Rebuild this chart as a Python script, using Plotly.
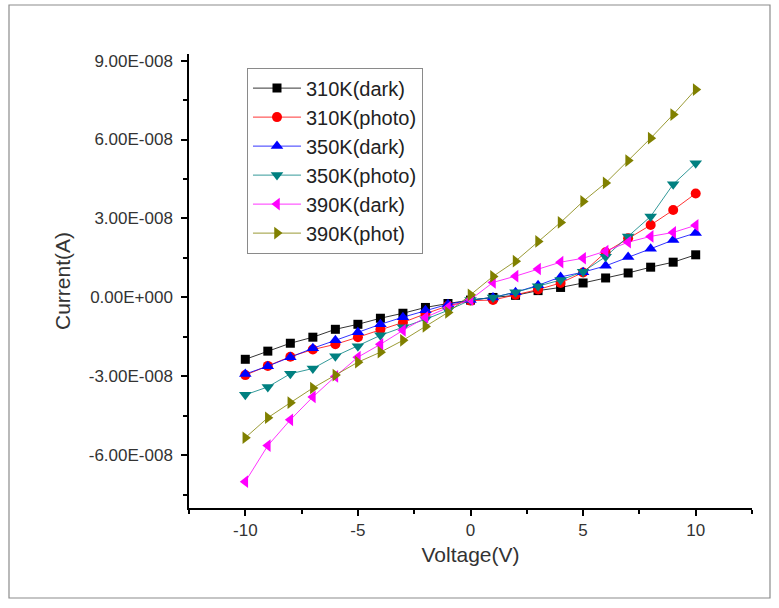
import plotly.graph_objects as go

voltage = [-10, -9, -8, -7, -6, -5, -4, -3, -2, -1, 0, 1, 2, 3, 4, 5, 6, 7, 8, 9, 10]

dark_310K = [-2.35e-8, -2.04e-8, -1.74e-8, -1.51e-8, -1.21e-8, -1.02e-8, -0.79e-8, -0.60e-8, -0.38e-8, -0.23e-8,
             -0.10e-8, 0.0, 0.08e-8, 0.26e-8, 0.38e-8, 0.55e-8, 0.74e-8, 0.93e-8, 1.15e-8, 1.34e-8, 1.62e-8]
photo_310K = [-2.95e-8, -2.6e-8, -2.25e-8, -1.98e-8, -1.78e-8, -1.51e-8, -1.22e-8, -0.95e-8, -0.62e-8, -0.32e-8,
              -0.12e-8, -0.10e-8, 0.10e-8, 0.30e-8, 0.55e-8, 0.95e-8, 1.72e-8, 2.25e-8, 2.75e-8, 3.32e-8, 3.95e-8]
dark_350K = [-2.91e-8, -2.61e-8, -2.27e-8, -1.93e-8, -1.63e-8, -1.32e-8, -1.02e-8, -0.75e-8, -0.49e-8, -0.26e-8,
             -0.10e-8, 0.0, 0.20e-8, 0.46e-8, 0.78e-8, 0.96e-8, 1.20e-8, 1.54e-8, 1.85e-8, 2.18e-8, 2.45e-8]
photo_350K = [-3.7e-8, -3.4e-8, -2.9e-8, -2.7e-8, -2.23e-8, -1.85e-8, -1.44e-8, -1.13e-8, -0.83e-8, -0.49e-8,
              -0.10e-8, 0.0, 0.20e-8, 0.43e-8, 0.66e-8, 0.98e-8, 1.55e-8, 2.32e-8, 3.08e-8, 4.3e-8, 5.1e-8]
dark_390K = [-7.0e-8, -5.63e-8, -4.65e-8, -3.78e-8, -3.0e-8, -2.27e-8, -1.78e-8, -1.25e-8, -0.76e-8, -0.38e-8,
             -0.08e-8, 0.57e-8, 0.81e-8, 1.08e-8, 1.34e-8, 1.49e-8, 1.76e-8, 2.1e-8, 2.32e-8, 2.47e-8, 2.74e-8]
photo_390K = [-5.33e-8, -4.57e-8, -4.0e-8, -3.44e-8, -2.95e-8, -2.46e-8, -2.08e-8, -1.63e-8, -1.1e-8, -0.57e-8,
              0.10e-8, 0.8e-8, 1.38e-8, 2.13e-8, 2.85e-8, 3.65e-8, 4.35e-8, 5.2e-8, 6.05e-8, 6.95e-8, 7.9e-8]

series_names = ["310K(dark)", "310K(photo)", "350K(dark)", "350K(photo)", "390K(dark)", "390K(phot)"]
series_values = [dark_310K, photo_310K, dark_350K, photo_350K, dark_390K, photo_390K]
series_colors = ["#000000", "#FF0000", "#0000FF", "#008080", "#FF00FF", "#808000"]
series_symbols = ["square", "circle", "triangle-up", "triangle-down", "triangle-left", "triangle-right"]
series_sizes = [9, 10, 11, 11, 11, 11]

y_tick_values = [-6e-8, -3e-8, 0, 3e-8, 6e-8, 9e-8]
y_tick_labels = ["-6.00E-008", "-3.00E-008", "0.00E+000", "3.00E-008", "6.00E-008", "9.00E-008"]
x_tick_values = [-10, -5, 0, 5, 10]
x_tick_labels = ["-10", "-5", "0", "5", "10"]

FONT = "Arial, 'Liberation Sans', sans-serif"

fig = go.Figure()
for name, vals, col, sym, sz in zip(series_names, series_values, series_colors, series_symbols, series_sizes):
    fig.add_trace(go.Scatter(
        x=voltage, y=vals, name=name, mode="lines+markers",
        line=dict(color=col, width=0.8),
        marker=dict(symbol=sym, size=sz, color=col, line=dict(width=0)),
    ))

fig.update_layout(
    width=779, height=608,
    margin=dict(l=189, r=27, t=54, b=100),
    paper_bgcolor="white", plot_bgcolor="white",
    font=dict(family=FONT, color="#222222"),
    showlegend=True,
    legend=dict(
        x=0.103, y=0.97, xanchor="left", yanchor="top",
        bgcolor="rgba(255,255,255,0)", bordercolor="#8a8a8a", borderwidth=1,
        font=dict(size=20, family=FONT, color="#222222"),
        tracegroupgap=0, itemsizing="trace", itemwidth=48,
    ),
    xaxis=dict(
        range=[-12.5, 12.5], tickvals=x_tick_values, ticktext=x_tick_labels,
        showgrid=False, zeroline=False, showline=True, linecolor="#000000", linewidth=1.5,
        ticks="outside", ticklen=6, tickwidth=1.5, tickcolor="#000000",
        minor=dict(dtick=2.5, tick0=0, ticks="outside", ticklen=4, tickwidth=1.5, tickcolor="#000000"),
        tickfont=dict(size=17, family=FONT, color="#333333"),
        title=dict(text="Voltage(V)", font=dict(size=21, family=FONT, color="#333333"), standoff=8),
    ),
    yaxis=dict(
        range=[-8.0e-8, 9.25e-8], tickvals=y_tick_values, ticktext=y_tick_labels,
        showgrid=False, zeroline=False, showline=True, linecolor="#000000", linewidth=1.5,
        ticks="outside", ticklen=6, tickwidth=1.5, tickcolor="#000000", ticklabelstandoff=5,
        minor=dict(dtick=1.5e-8, tick0=0, ticks="outside", ticklen=4, tickwidth=1.5, tickcolor="#000000"),
        tickfont=dict(size=17, family=FONT, color="#333333"),
        title=dict(text="Current(A)", font=dict(size=21, family=FONT, color="#333333"), standoff=12),
    ),
)

fig.add_shape(type="rect", xref="paper", yref="paper",
              x0=(9 - 189) / 563, x1=(770 - 189) / 563,
              y0=(508 - 598) / 454, y1=(508 - 5) / 454,
              line=dict(color="#8c8c8c", width=1.2), fillcolor="rgba(0,0,0,0)", layer="below")

fig.write_html("out.html")
